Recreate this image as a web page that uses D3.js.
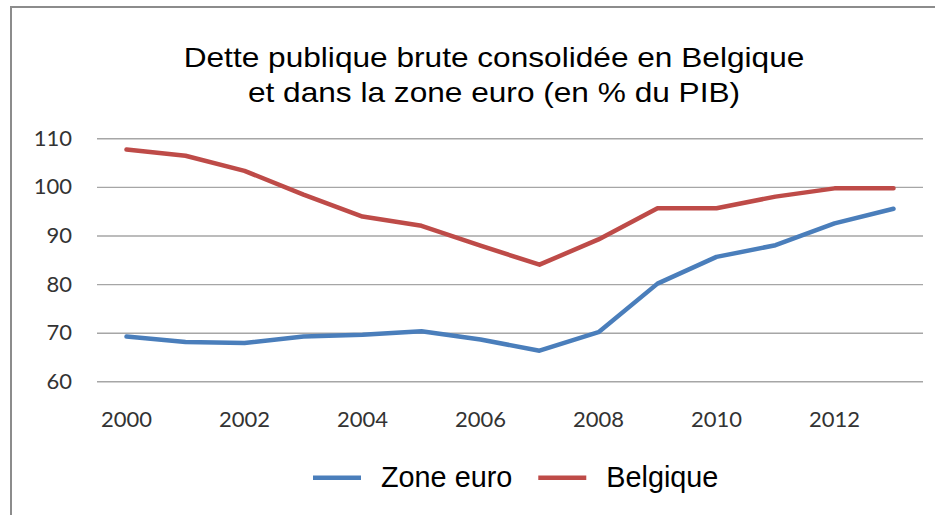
<!DOCTYPE html>
<html>
<head>
<meta charset="utf-8">
<script src="https://cdn.jsdelivr.net/npm/d3@7"></script>
<style>
  body { margin:0; background:#fff; }
</style>
</head>
<body>
<svg id="chart"></svg>
<script>
var years = [2000,2001,2002,2003,2004,2005,2006,2007,2008,2009,2010,2011,2012,2013];
var zoneEuro = [69.2,68.1,67.9,69.2,69.6,70.3,68.6,66.3,70.1,80.1,85.6,88.0,92.5,95.5];
var belgique = [107.7,106.4,103.3,98.4,93.9,92.0,87.9,84.0,89.2,95.6,95.6,98.0,99.7,99.7];
var yTicks = [60,70,80,90,100,110];
var xLabels = [2000,2002,2004,2006,2008,2010,2012];
var titleLines = ["Dette publique brute consolidée en Belgique","et dans la zone euro (en % du PIB)"];

var series = [
  {name:"Zone euro", values:zoneEuro, color:"#4a7ebb"},
  {name:"Belgique", values:belgique, color:"#be4b48"}
];

var screen = {width:935, height:515};
var margins = {top:138.3, bottom:515-381.3, left:97, right:12};

var svg = d3.select("svg#chart")
            .attr("width",screen.width)
            .attr("height",screen.height)
            .style("display","block");

var width = screen.width - margins.left - margins.right;
var height = screen.height - margins.top - margins.bottom;

//frame (only left and top edges show)
svg.append("path")
   .attr("d","M11,515 L11,7 L935,7")
   .attr("fill","none")
   .attr("stroke","#8c8c8c")
   .attr("stroke-width",2);

//title
var title = svg.append("g")
               .attr("transform","translate(494,0) scale(1.13,1)");
title.selectAll("text")
     .data(titleLines)
     .enter()
     .append("text")
     .attr("x",0)
     .attr("y",function(d,i){return 67.3 + i*34.3;})
     .attr("text-anchor","middle")
     .attr("font-family","'Liberation Sans', Arial, sans-serif")
     .attr("font-size",28)
     .attr("fill","#000")
     .text(function(d){return d;});

//scales
var xScale = d3.scaleBand()
               .domain(years)
               .range([0,width]);
var yScale = d3.scaleLinear()
               .domain([60,110])
               .range([height,0]);

var plotLand = svg.append("g")
                  .classed("plot",true)
                  .attr("transform","translate("+margins.left+","+margins.top+")");

//y axis + gridlines
var yAxis = d3.axisLeft(yScale)
              .tickValues(yTicks)
              .tickSize(-width)
              .tickPadding(25);

var yG = plotLand.append("g").classed("yAxis",true).call(yAxis);
yG.select(".domain").remove();
yG.selectAll("line").attr("stroke","#a6a6a6").attr("stroke-width",1.4);
yG.selectAll("text")
  .attr("font-family","Lato, 'Open Sans', sans-serif")
  .attr("font-size",22)
  .attr("fill","#333");

//x axis
var xAxis = d3.axisBottom(xScale)
              .tickValues(xLabels)
              .tickSize(0)
              .tickPadding(30);

var xG = plotLand.append("g").classed("xAxis",true)
                 .attr("transform","translate(0,"+height+")")
                 .call(xAxis);
xG.select(".domain").remove();
xG.selectAll("text")
  .attr("font-family","Lato, 'Open Sans', sans-serif")
  .attr("font-size",22)
  .attr("fill","#333");

//lines
var line = d3.line()
             .x(function(d,i){return xScale(years[i]) + xScale.bandwidth()/2;})
             .y(function(d){return yScale(d);});

plotLand.selectAll(".serie")
        .data(series)
        .enter()
        .append("path")
        .classed("serie",true)
        .attr("d",function(d){return line(d.values);})
        .attr("fill","none")
        .attr("stroke",function(d){return d.color;})
        .attr("stroke-width",4.5)
        .attr("stroke-linejoin","round")
        .attr("stroke-linecap","round");

//legend
var legend = svg.append("g")
                .classed("legend",true)
                .attr("transform","translate(313,477.7)");

var xPos = 0;
series.forEach(function(s){
  var g = legend.append("g").attr("transform","translate("+xPos+",0)");
  g.append("line")
   .attr("x1",0).attr("x2",48)
   .attr("y1",0).attr("y2",0)
   .attr("stroke",s.color)
   .attr("stroke-width",4.5);
  var t = g.append("text")
           .attr("x",68)
           .attr("y",9)
           .attr("font-family","'Liberation Sans', Arial, sans-serif")
           .attr("font-size",28.8)
           .attr("fill","#000")
           .text(s.name);
  xPos += 68 + t.node().getComputedTextLength() + 26;
});
</script>
</body>
</html>
